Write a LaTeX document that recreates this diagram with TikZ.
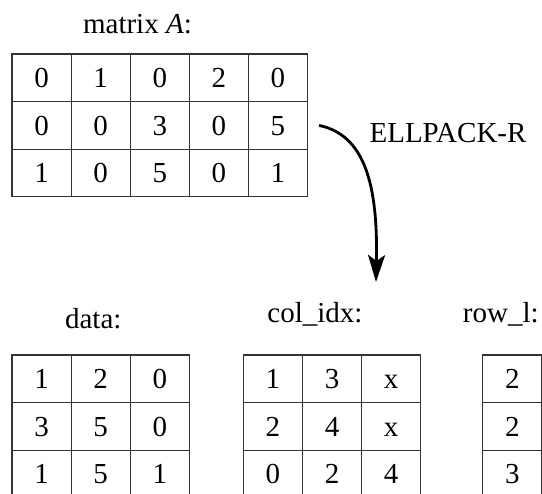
\documentclass[tikz,border=0pt]{standalone}
\usepackage{fontspec}
\setmainfont{Liberation Serif}
\usetikzlibrary{arrows.meta}
\begin{document}
\begin{tikzpicture}[x=1pt,y=-1pt,
  font=\fontsize{29}{34}\selectfont,
  cell/.style={draw=black!80, line width=1.2pt, minimum width=59.1pt, minimum height=47.6pt,
    inner sep=0pt, outer sep=0pt, text height=19.6pt, text depth=0pt, anchor=center},
  lbl/.style={anchor=base, inner sep=0pt},
  conn/.style={line width=2.8pt, -{Stealth[length=27pt,width=17pt,inset=6pt]}}]
\clip (0,0) rectangle (542,494);
% matrix A
\foreach \row [count=\i] in {{0,1,0,2,0},{0,0,3,0,5},{1,0,5,0,1}}
  \foreach \v [count=\j] in \row
    \node[cell] (A-\i-\j) at ({12+59.1*(\j-0.5)},{54+47.6*(\i-0.5)}) {\v};
% data
\foreach \row [count=\i] in {{1,2,0},{3,5,0},{1,5,1}}
  \foreach \v [count=\j] in \row
    \node[cell] (D-\i-\j) at ({12+59.1*(\j-0.5)},{355+47.6*(\i-0.5)}) {\v};
% col_idx
\foreach \row [count=\i] in {{1,3,x},{2,4,x},{0,2,4}}
  \foreach \v [count=\j] in \row
    \node[cell] (C-\i-\j) at ({243.4+59.1*(\j-0.5)},{355+47.6*(\i-0.5)}) {\v};
% row_l
\foreach \v [count=\i] in {2,2,3}
  \node[cell] (R-\i) at ({482.7+59.1*0.5},{355+47.6*(\i-0.5)}) {\v};
% labels
\node[lbl] (lA) at (137.5,33.3) {matrix \textit{A}:};
\node[lbl] (ldata) at (93.3,328.8) {data:};
\node[lbl] (lcol) at (315,322.5) {col\_idx:};
\node[lbl] (lrow) at (500.8,322.5) {row\_l:};
\node[lbl] (lell) at (448,142.7) {ELLPACK-R};
% arrow
\coordinate (tip) at (376,282);
\draw[conn] ([xshift=11.5pt]A-2-5.east) .. controls (365,135) and (378,185) .. (tip);
\end{tikzpicture}
\end{document}
